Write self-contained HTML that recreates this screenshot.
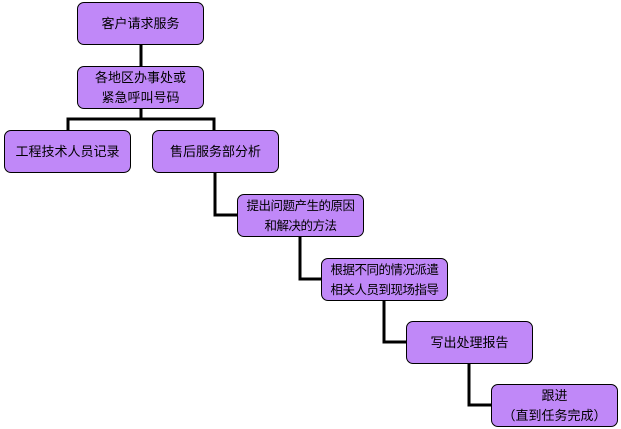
<!DOCTYPE html>
<html><head><meta charset="utf-8"><style>
body{margin:0;background:#fff;width:621px;height:429px;overflow:hidden;position:relative;font-family:"Liberation Sans","Noto Sans CJK SC","WenQuanYi Zen Hei",sans-serif;}
.b{position:absolute;box-sizing:border-box;width:127px;height:43px;border:1.5px solid #000;border-radius:7px;background:#c088f8;display:flex;align-items:center;justify-content:center;text-align:center;font-size:13px;line-height:20px;color:#000;white-space:nowrap;}
.s{font-size:12.5px;letter-spacing:-0.5px}
svg{position:absolute;left:0;top:0}
</style></head><body>
<svg width="621" height="429"><g stroke="#000" stroke-width="3" fill="none">
<path d="M141 44V66"/>
<path d="M141 108V119M68 130V119H214V130"/>
<path d="M215 172V215H237"/>
<path d="M300 236V279H321"/>
<path d="M384 300V342H406"/>
<path d="M469 363V405H491"/>
</g></svg>
<div class="b" style="left:77px;top:2px">客户请求服务</div>
<div class="b" style="left:77px;top:66px">各地区办事处或<br>紧急呼叫号码</div>
<div class="b" style="left:4px;top:130px">工程技术人员记录</div>
<div class="b" style="left:152px;top:130px">售后服务部分析</div>
<div class="b s" style="left:237px;top:194px">提出问题产生的原因<br>和解决的方法</div>
<div class="b s" style="left:321px;top:258px">根据不同的情况派遣<br>相关人员到现场指导</div>
<div class="b" style="left:406px;top:321px">写出处理报告</div>
<div class="b" style="left:491px;top:384px">跟进<br>（直到任务完成）</div>
</body></html>
